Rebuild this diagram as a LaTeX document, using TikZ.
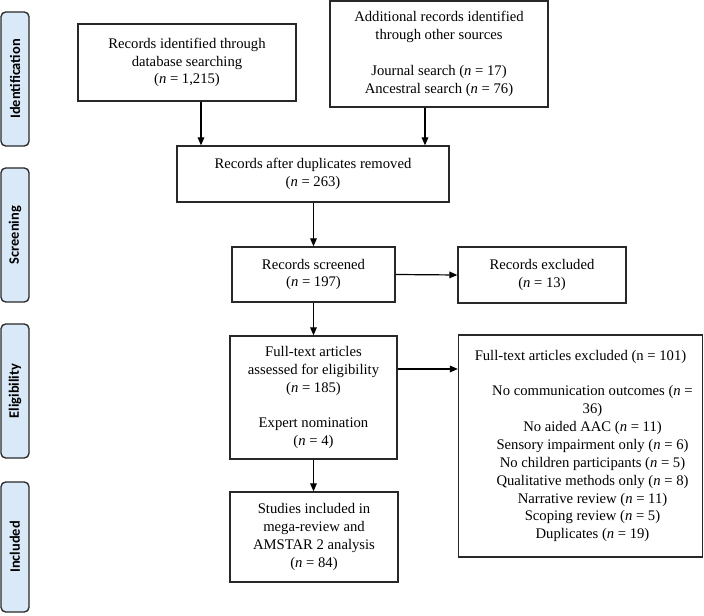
\documentclass[tikz,border=0pt]{standalone}
\usepackage{fontspec}
\setmainfont{Liberation Serif}
\newfontfamily\stagefont{Carlito}[BoldFont={Carlito Bold}]
\usetikzlibrary{arrows.meta}
\definecolor{stagefill}{RGB}{218,233,248}
\definecolor{edgecol}{RGB}{40,40,40}
\begin{document}
\begin{tikzpicture}[x=0.75pt,y=-0.75pt,
  box/.style={draw=edgecol, line width=1pt, fill=white, align=center, inner sep=0pt,
    font=\fontsize{11}{13.4}\selectfont},
  stage/.style={draw=edgecol, line width=1pt, fill=stagefill, rounded corners=3.5pt,
    rotate=90, inner sep=0pt, minimum height={28*0.75pt},
    font=\stagefont\bfseries\fontsize{10.8}{12}\selectfont},
  arr/.style={draw=black, line width=0.9pt, -{Triangle[length=6pt,width=5pt]}}]
\useasboundingbox (0,0) rectangle (704,616);
% stage labels
\node[stage, minimum width={134*0.75pt}] (sid) at (15,79) {Identification};
\node[stage, minimum width={134*0.75pt}] (ssc) at (15,235) {Screening};
\node[stage, minimum width={134*0.75pt}] (sel) at (15,391) {Eligibility};
\node[stage, minimum width={130*0.75pt}] (sin) at (15,547) {Included};
% boxes
\node[box, minimum width={218*0.75pt}, minimum height={77*0.75pt}] (db) at (187,62.5)
  {Records identified through\\database searching\\(\textit{n} = 1,215)};
\node[box, minimum width={218*0.75pt}, minimum height={106*0.75pt}] (add) at (439,54)
  {Additional records identified\\through other sources\\[13.4pt]Journal search (\textit{n} = 17)\\Ancestral search (\textit{n} = 76)};
\node[box, minimum width={272*0.75pt}, minimum height={56*0.75pt}] (dup) at (313,174)
  {Records after duplicates removed\\(\textit{n} = 263)};
\node[box, minimum width={163*0.75pt}, minimum height={55*0.75pt}] (scr) at (313.5,274.5)
  {Records screened\\(\textit{n} = 197)};
\node[box, minimum width={168*0.75pt}, minimum height={56*0.75pt}] (exa) at (542,275)
  {Records excluded\\(\textit{n} = 13)};
\node[box, minimum width={167*0.75pt}, minimum height={123*0.75pt}] (ft) at (313.5,397.5)
  {Full-text articles\\assessed for eligibility\\(\textit{n} = 185)\\[13.4pt]Expert nomination\\(\textit{n} = 4)};
\node[box, minimum width={244*0.75pt}, minimum height={222*0.75pt}] (exb) at (580.5,446)
  {Full-text articles excluded (n = 101)\\[13.4pt]
  \hspace*{24\dimexpr 0.75pt\relax}No communication outcomes (\textit{n} =\\
  \hspace*{24\dimexpr 0.75pt\relax}36)\\
  \hspace*{24\dimexpr 0.75pt\relax}No aided AAC (\textit{n} = 11)\\
  \hspace*{24\dimexpr 0.75pt\relax}Sensory impairment only (\textit{n} = 6)\\
  \hspace*{24\dimexpr 0.75pt\relax}No children participants (\textit{n} = 5)\\
  \hspace*{24\dimexpr 0.75pt\relax}Qualitative methods only (\textit{n} = 8)\\
  \hspace*{24\dimexpr 0.75pt\relax}Narrative review (\textit{n} = 11)\\
  \hspace*{24\dimexpr 0.75pt\relax}Scoping review (\textit{n} = 5)\\
  \hspace*{24\dimexpr 0.75pt\relax}Duplicates (\textit{n} = 19)};
\node[box, minimum width={168*0.75pt}, minimum height={90*0.75pt}] (inc) at (314,537)
  {Studies included in\\mega-review and\\AMSTAR 2 analysis\\(\textit{n} = 84)};
% helper coordinates for connector positions
\coordinate (xa) at (201,0);
\coordinate (xb) at (425,0);
\coordinate (yb) at (0,369);
% connectors
\draw[arr] (db.south -| xa) -- (dup.north -| xa);
\draw[arr] (add.south -| xb) -- (dup.north -| xb);
\draw[arr] (dup.south -| scr.north) -- (scr.north);
\draw[arr] (scr.east) -- (exa.west);
\draw[arr] (scr.south) -- (scr.south |- ft.north);
\draw[arr] (ft.east |- yb) -- (exb.west |- yb);
\draw[arr] (ft.south) -- (ft.south |- inc.north);
\end{tikzpicture}
\end{document}
